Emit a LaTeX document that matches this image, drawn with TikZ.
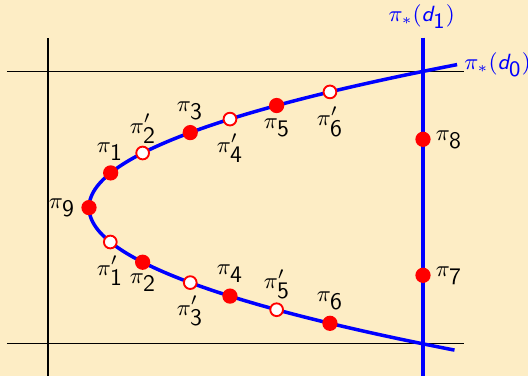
\documentclass[tikz,border=0pt]{standalone}
\usepackage{tikz}
\definecolor{bg}{RGB}{253,237,197}
\newcommand{\sfd}{\mbox{\sffamily\itshape d}}
\newcommand{\sfn}[1]{\mbox{\sffamily #1}}
\begin{document}
\begin{tikzpicture}[x=0.4pt,y=-0.4pt,
  axisline/.style={black,line width=0.45pt},
  curveline/.style={blue,line width=1.4pt},
  fdot/.style={circle,fill=red,inner sep=0pt,minimum size=6.1pt},
  odot/.style={circle,draw=red,fill=white,line width=0.75pt,inner sep=0pt,minimum size=5.1pt},
  lbl/.style={inner sep=0pt,font=\fontsize{9.5}{11}\selectfont},
  blbl/.style={inner sep=0pt,text=blue,font=\fontsize{8.8}{10}\selectfont}]
\fill[bg] (0,0) rectangle (528,376);
\useasboundingbox (0,0) rectangle (528,376);
% black axes
\coordinate (hA1) at (7,71.5);  \coordinate (hA2) at (464,71.5);
\coordinate (hB1) at (7,343.5); \coordinate (hB2) at (464,343.5);
\coordinate (vA1) at (48,38);   \coordinate (vA2) at (48,376);
\draw[axisline] (hA1) -- (hA2);
\draw[axisline] (hB1) -- (hB2);
\draw[axisline] (vA1) -- (vA2);
% blue lines
\coordinate (vB1) at (423,37.5); \coordinate (vB2) at (423,376);
\draw[curveline] (vB1) -- (vB2);
\draw[curveline] plot[domain=-143:142.5,samples=120,smooth] ({89+1.8*(\x/10)*(\x/10)},{207.6+\x});
% dots on parabola
\foreach \n/\t/\s in {p1/-34.7/fdot, p2p/-54.6/odot, p3/-75/fdot, p4p/-88.5/odot, p5/-102.1/fdot, p6p/-115.7/odot,
                      p1p/34.4/odot, p2/54.6/fdot, p3p/75/odot, p4/88.5/fdot, p5p/102.1/odot, p6/115.7/fdot, p9/0/fdot}
  \node[\s] (\n) at ({89+1.8*(\t/10)*(\t/10)},{207.6+\t}) {};
\node[fdot] (p8) at (423,139.3) {};
\node[fdot] (p7) at (423,275.3) {};
% labels
\node[lbl] (l1) at (110,151.7) {$\pi_{\sfn{1}}$};
\node[lbl] (l2p) at (143,129) {$\pi'_{\sfn{2}}$};
\node[lbl] (l3) at (190,111) {$\pi_{\sfn{3}}$};
\node[lbl] (l4p) at (230,148) {$\pi'_{\sfn{4}}$};
\node[lbl] (l5) at (277,127.7) {$\pi_{\sfn{5}}$};
\node[lbl] (l6p) at (330,121.7) {$\pi'_{\sfn{6}}$};
\node[lbl] (l8) at (449,140) {$\pi_{\sfn{8}}$};
\node[lbl] (l9) at (62,207.7) {$\pi_{\sfn{9}}$};
\node[lbl] (l1p) at (110,271) {$\pi'_{\sfn{1}}$};
\node[lbl] (l2) at (143,282.7) {$\pi_{\sfn{2}}$};
\node[lbl] (l3p) at (190,311) {$\pi'_{\sfn{3}}$};
\node[lbl] (l4) at (230,273.3) {$\pi_{\sfn{4}}$};
\node[lbl] (l5p) at (277,284.3) {$\pi'_{\sfn{5}}$};
\node[lbl] (l6) at (330,301) {$\pi_{\sfn{6}}$};
\node[lbl] (l7) at (449,276) {$\pi_{\sfn{7}}$};
\node[blbl] (d1) at (421.7,16.7) {$\pi_*(\sfd_{\sfn{1}})$};
\node[blbl,anchor=west] (d0) at (464,65) {$\pi_*(\sfd_{\sfn{0}})$};
\end{tikzpicture}
\end{document}
